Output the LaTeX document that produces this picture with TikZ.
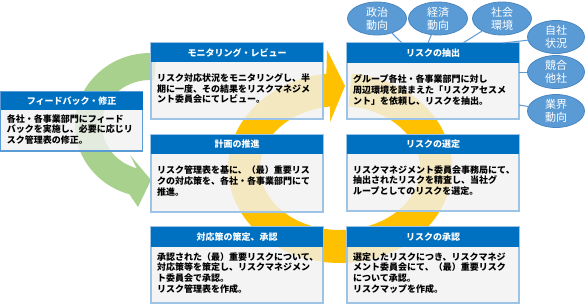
\documentclass[tikz,border=0pt]{standalone}
\usepackage{fontspec}
\setmainfont{Noto Sans CJK JP}
\usetikzlibrary{shapes.geometric,calc}
\definecolor{headc}{HTML}{0070C0}
\definecolor{bordc}{HTML}{9DC3E6}
\definecolor{fbbord}{HTML}{5B9BD5}
\definecolor{boxfill}{HTML}{F2F2F2}
\definecolor{ellc}{HTML}{5B9BD5}
\definecolor{elld}{HTML}{4A86C0}
\definecolor{ringy}{HTML}{FFC000}
\definecolor{ringg}{HTML}{A9D18E}
\tikzset{
  boxbody/.style={draw=bordc, line width=1.1pt, fill=boxfill, fill opacity=0.8, inner sep=0pt, outer sep=0pt, anchor=north west, minimum width=172pt},
  boxhead/.style={fill=headc, text=white, font=\bfseries\fontsize{9}{11}\selectfont, inner sep=0pt, outer sep=0pt, anchor=north west, minimum width=172pt, minimum height=19pt},
  boxtext/.style={font=\bfseries\fontsize{9}{10.8}\selectfont, align=left, anchor=west, inner sep=0pt, text=black},
  env/.style={ellipse, fill=ellc, draw=elld, line width=0.8pt, minimum width=59pt, minimum height=33pt, inner sep=0pt, text=white, font=\fontsize{11}{13}\selectfont, align=center},
  conn/.style={draw=ellc, line width=1pt}
}
\begin{document}
\begin{tikzpicture}[x=1pt,y=-1pt]
\fill[white] (0,0) rectangle (588,306);
\useasboundingbox (0,0) rectangle (588,306);
% rings
\fill[ringy] plot[domain=0:347, samples=140] ({340+112*cos(84-\x)},{168-95*sin(84-\x)})
  -- (327,50) -- (345,86) -- (330,122)
  -- plot[domain=0:347, samples=140] ({340+80*cos(-263+\x)},{168-62*sin(-263+\x)}) -- cycle;
\fill[ringg] plot[domain=85:254, samples=80] ({150+75*cos(\x)},{125-72*sin(\x)})
  -- (138,207) -- (151,180) -- (130,155)
  -- plot[domain=0:169, samples=80] ({150+48*cos(254-\x)},{125-45*sin(254-\x)}) -- cycle;
% feedback box
\node[boxbody, draw=fbbord, minimum width=142pt, minimum height=59pt] (fb) at (0.6,92) {};
\node[boxhead, minimum width=142pt, minimum height=18pt] (fbH) at (0.6,92) {フィードバック・修正};
\node[boxtext] (fbT) at ($(fbH.south west)!0.5!(fb.south west)+(6,-1)$) {各社・各事業部門にフィード\\バックを実施し、必要に応じリ\\スク管理表の修正。};
% left column
\node[boxbody, minimum height=76pt] (mon) at (151,43) {};
\node[boxhead] (monH) at (151,43) {モニタリング・レビュー};
\node[boxtext] (monT) at ($(monH.south west)!0.5!(mon.south west)+(6,-2)$) {リスク対応状況をモニタリングし、半\\期に一度、その結果をリスクマネジメ\\ント委員会にてレビュー。};
\node[boxbody, minimum height=77pt] (plan) at (151,135) {};
\node[boxhead] (planH) at (151,135) {計画の推進};
\node[boxtext] (planT) at ($(planH.south west)!0.5!(plan.south west)+(6,-2)$) {リスク管理表を基に、（最）重要リス\\クの対応策を、各社・各事業部門にて\\推進。};
\node[boxbody, minimum height=76pt] (meas) at (151,227) {};
\node[boxhead, minimum height=20pt] (measH) at (151,227) {対応策の策定、承認};
\node[boxtext] (measT) at ($(measH.south west)!0.5!(meas.south west)+(6,-2)$) {承認された（最）重要リスクについて、\\対応策等を策定し、リスクマネジメン\\ト委員会で承認。\\リスク管理表を作成。};
% right column
\node[boxbody, minimum height=76pt] (ext) at (347,43) {};
\node[boxhead, minimum height=20pt] (extH) at (347,43) {リスクの抽出};
\node[boxtext] (extT) at ($(extH.south west)!0.5!(ext.south west)+(6,-1)$) {グループ各社・各事業部門に対し\\周辺環境を踏まえた「リスクアセスメ\\ント」を依頼し、リスクを抽出。};
\node[boxbody, minimum height=76pt] (sel) at (347,135) {};
\node[boxhead] (selH) at (347,135) {リスクの選定};
\node[boxtext] (selT) at ($(selH.south west)!0.5!(sel.south west)+(6,-2)$) {リスクマネジメント委員会事務局にて、\\抽出されたリスクを精査し、当社グ\\ループとしてのリスクを選定。};
\node[boxbody, minimum height=76pt] (appr) at (347,227) {};
\node[boxhead, minimum height=20pt] (apprH) at (347,227) {リスクの承認};
\node[boxtext] (apprT) at ($(apprH.south west)!0.5!(appr.south west)+(6,-2)$) {選定したリスクにつき、リスクマネジ\\メント委員会にて、（最）重要リスク\\について承認。\\リスクマップを作成。};
% environment ellipses
\node[env] (pol) at (377,18.5) {政治\\動向};
\node[env] (eco) at (438,18.5) {経済\\動向};
\node[env] (soc) at (502,18.5) {社会\\環境};
\node[env, minimum width=57pt] (own) at (556,37) {自社\\状況};
\node[env, minimum width=57pt] (comp) at (556,72) {競合\\他社};
\node[env, minimum width=57pt] (ind) at (556,111) {業界\\動向};
\draw[conn] (pol) -- ($(ext.north west)+(55,0)$);
\draw[conn] (eco) -- ($(ext.north west)+(81,0)$);
\draw[conn] (soc) -- ($(ext.north west)+(116,0)$);
\draw[conn] (own) -- ($(ext.north west)+(156,0)$);
\draw[conn] (comp) -- (ext.east |- comp);
\draw[conn] (ind) -- ($(ext.east)+(0,24)$);
\end{tikzpicture}
\end{document}
